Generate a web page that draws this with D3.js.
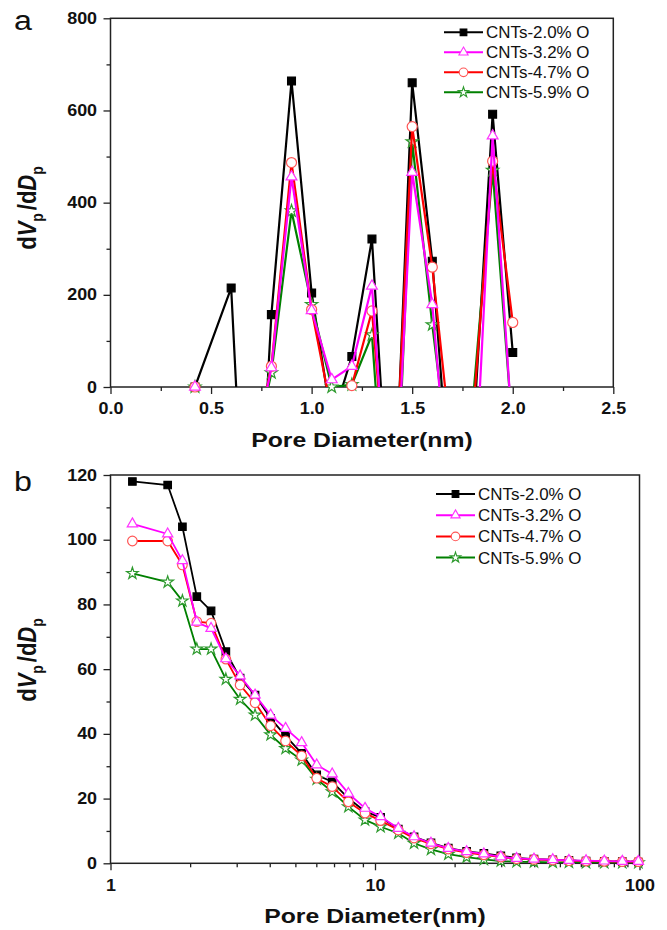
<!DOCTYPE html>
<html>
<head>
<meta charset="utf-8">
<script src="https://cdn.jsdelivr.net/npm/d3@7"></script>
<style>
  body { margin: 0; background: #fff; }
  svg { display: block; font-family: "Liberation Sans", Arial, sans-serif; }
</style>
</head>
<body>
<script>
// ---- data: panel a (pore size distribution, micropores) ----
const topDiam = [0.42, 0.6, 0.7, 0.8, 0.9, 1.0, 1.1, 1.2, 1.3, 1.4, 1.5, 1.6, 1.7, 1.8, 1.9, 2.0];
const topBlack = [0, 215, -650, 157, 664, 204, -75, 66, 321, -400, 660, 273, -300, -130, 592, 75];
const topMagenta = [0, -20, -170, 42, 456, 166, 16, 45, 219, -400, 466, 179, -330, -320, 545, -111];
const topRed = [0, -20, -170, 45, 487, 168, -56, 3, 165, -350, 565, 260, -150, -75, 490, 140];
const topGreen = [0, -20, -170, 31, 382, 179, 0, 5, 113, -500, 532, 135, -220, -40, 470, -100];

// ---- data: panel b (log scale) ----
const botDiam = [1.21, 1.645, 1.87, 2.12, 2.40, 2.73, 3.09, 3.52, 4.03, 4.59, 5.28, 6.02, 6.89, 7.93, 9.17,
  10.5, 12.25, 14.05, 16.28, 18.93, 22.2, 25.8, 29.9, 34.3, 39.9, 47.0, 54.1, 62.8, 73.6, 86.1, 99.0];
const botBlack = [118.0, 116.9, 104, 82.4, 78, 65.4, 57.2, 52, 44.8, 39.4, 34, 27.3, 25.2, 20.1, 16,
  14.2, 10.6, 8.2, 6.3, 4.7, 3.7, 3.1, 2.3, 1.7, 1.3, 1.1, 0.9, 0.7, 0.6, 0.5, 0.4];
const botMagenta = [104.9, 101.8, 93.5, 74.5, 72.6, 63.2, 57.9, 52.0, 45.8, 41.7, 37.3, 30.4, 27.6, 21.6, 17.0,
  14.4, 10.8, 8.2, 6.2, 4.6, 3.6, 2.9, 2.0, 1.5, 1.3, 1.1, 0.9, 0.8, 0.7, 0.6, 0.6];
const botRed = [99.6, 99.6, 92.2, 74.7, 74.2, 63.1, 55.1, 49.6, 42.5, 37.8, 33.2, 26.3, 23.7, 19.0, 15.5,
  13.2, 10.3, 7.8, 6.0, 4.4, 3.3, 2.6, 1.9, 1.4, 1.2, 1.0, 0.8, 0.7, 0.6, 0.5, 0.5];
const botGreen = [89.6, 86.9, 81.1, 66.2, 66.2, 56.9, 50.7, 45.8, 39.7, 35.5, 31.9, 26.0, 22.1, 17.5, 13.4,
  11.3, 9.3, 6.2, 4.3, 2.8, 1.9, 1.2, 0.7, 0.5, 0.4, 0.3, 0.3, 0.2, 0.2, 0.2, 0.2];

const seriesNames = ["CNTs-2.0% O", "CNTs-3.2% O", "CNTs-4.7% O", "CNTs-5.9% O"];
const topTicksY = [0, 200, 400, 600, 800];
const topTicksX = [0.0, 0.5, 1.0, 1.5, 2.0, 2.5];
const botTicksY = [0, 20, 40, 60, 80, 100, 120];
const botTicksX = [1, 10, 100];

// styles per series (legend order)
const styles = [
  { line: "#000000", stroke: "#000000", fill: "#000000", symbol: d3.symbolSquare, size: 56 },
  { line: "#ff00ff", stroke: "#ff33ff", fill: "#ffffff", symbol: d3.symbolTriangle, size: 46 },
  { line: "#ff0000", stroke: "#ff5555", fill: "#ffffff", symbol: d3.symbolCircle, size: 72 },
  { line: "#008000", stroke: "#2e9a2e", fill: "#ffffff", symbol: d3.symbolStar, size: 42 }
];
const drawOrder = [0, 3, 2, 1];

const W = 667, H = 930;
const svg = d3.select("body").append("svg").attr("width", W).attr("height", H);

const stretch = "scale(1.12,1)";

function panel(cfg) {
  const g = svg.append("g");
  const x = cfg.x, y = cfg.y;
  const [x0, x1] = x.range();
  const [y0, y1] = y.range();

  const clipId = "clip-" + cfg.name;
  svg.append("clipPath").attr("id", clipId)
    .append("rect").attr("x", x0).attr("y", y1).attr("width", x1 - x0).attr("height", y0 - y1);

  // minor ticks
  g.append("g").attr("transform", "translate(" + x0 + ",0)")
    .call(d3.axisLeft(y).tickValues(cfg.minorY).tickSize(4).tickSizeOuter(0).tickFormat(""))
    .call(a => a.select(".domain").remove());
  g.append("g").attr("transform", "translate(0," + y0 + ")")
    .call(d3.axisBottom(x).tickValues(cfg.minorX).tickSize(4).tickSizeOuter(0).tickFormat(""))
    .call(a => a.select(".domain").remove());

  // major axes
  const ay = g.append("g").attr("transform", "translate(" + x0 + ",0)")
    .call(d3.axisLeft(y).tickValues(cfg.ticksY).tickSize(7).tickSizeOuter(0).tickPadding(5));
  const ax = g.append("g").attr("transform", "translate(0," + y0 + ")")
    .call(d3.axisBottom(x).tickValues(cfg.ticksX).tickSize(7).tickSizeOuter(0).tickPadding(9)
      .tickFormat(cfg.fmtX));
  [ay, ax].forEach(a => {
    a.select(".domain").remove();
    a.selectAll("text").attr("font-size", 16).attr("font-weight", "bold")
      .attr("fill", "#111").attr("font-family", "Liberation Sans, Arial, sans-serif")
      .attr("transform", stretch);
  });
  g.selectAll(".tick line").attr("stroke", "#222").attr("stroke-width", 1.3);

  // frame
  g.append("rect").attr("x", x0).attr("y", y1).attr("width", x1 - x0).attr("height", y0 - y1)
    .attr("fill", "none").attr("stroke", "#222").attr("stroke-width", 1.5);

  // data
  const plot = g.append("g");
  drawOrder.forEach(i => {
    const vals = cfg.series[i];
    const pts = cfg.diam.map((d, k) => ({ d: d, v: vals[k] }));
    const line = d3.line().x(p => x(p.d)).y(p => y(p.v));
    plot.append("path").datum(pts)
      .attr("d", line)
      .attr("fill", "none")
      .attr("stroke", styles[i].line)
      .attr("stroke-width", cfg.lineWidth)
      .attr("stroke-linejoin", "miter")
      .attr("clip-path", "url(#" + clipId + ")");
    plot.selectAll(null).data(pts.filter(p => p.v >= 0)).enter()
      .append("path")
      .attr("transform", p => "translate(" + x(p.d) + "," + y(p.v) + ")")
      .attr("d", d3.symbol().type(styles[i].symbol).size(styles[i].size * cfg.markScale))
      .attr("fill", styles[i].fill)
      .attr("stroke", styles[i].stroke)
      .attr("stroke-width", 1.2);
  });

  // legend
  const lg = g.append("g");
  seriesNames.forEach((name, i) => {
    const ly = cfg.legY + i * cfg.legStep;
    lg.append("line").attr("x1", cfg.legX).attr("x2", cfg.legX + 39)
      .attr("y1", ly).attr("y2", ly)
      .attr("stroke", styles[i].line).attr("stroke-width", 2);
    lg.append("path")
      .attr("transform", "translate(" + (cfg.legX + 19.5) + "," + ly + ")")
      .attr("d", d3.symbol().type(styles[i].symbol).size(styles[i].size * 0.8))
      .attr("fill", styles[i].fill).attr("stroke", styles[i].stroke).attr("stroke-width", 1.1);
    lg.append("g").attr("transform", "translate(" + (cfg.legX + 42) + "," + (ly + 6) + ") scale(1.06,1)")
      .append("text").attr("font-size", 16).attr("fill", "#111").text(name);
  });

  // x title
  g.append("g").attr("transform", "translate(" + ((x0 + x1) / 2) + "," + (y0 + 60) + ") scale(1.18,1)")
    .append("text").attr("text-anchor", "middle").attr("font-size", 21).attr("font-weight", "bold")
    .attr("fill", "#111").text("Pore Diameter(nm)");

  // y title
  const yt = g.append("g").attr("transform", "translate(36," + cfg.yTitleY + ") scale(1.18,1) rotate(-90)")
    .append("text").attr("text-anchor", "middle").attr("font-size", 22).attr("font-weight", "bold")
    .attr("fill", "#111");
  yt.append("tspan").text("d");
  yt.append("tspan").attr("font-style", "italic").text("V");
  yt.append("tspan").attr("font-size", 14).attr("dy", 6).text("p");
  yt.append("tspan").attr("dy", -6).attr("dx", 3).text("/d");
  yt.append("tspan").attr("font-style", "italic").text("D");
  yt.append("tspan").attr("font-size", 14).attr("dy", 6).text("p");

  // panel letter
  g.append("g").attr("transform", "translate(14," + cfg.letterY + ") scale(1.15,1)")
    .append("text").attr("font-size", 28).attr("fill", "#111").text(cfg.letter);
}

// panel a
panel({
  name: "a",
  x: d3.scaleLinear().domain([0, 2.5]).range([110.5, 613.3]),
  y: d3.scaleLinear().domain([0, 800]).range([387, 18.3]),
  diam: topDiam,
  series: [topBlack, topMagenta, topRed, topGreen],
  ticksX: topTicksX, ticksY: topTicksY,
  minorX: [0.25, 0.75, 1.25, 1.75, 2.25],
  minorY: [100, 300, 500, 700],
  fmtX: d3.format(".1f"),
  lineWidth: 2.2, markScale: 1.1,
  legX: 444, legY: 32.3, legStep: 20,
  yTitleY: 208, letter: "a", letterY: 30
});

// panel b
panel({
  name: "b",
  x: d3.scaleLog().domain([1, 100]).range([110.5, 639.5]),
  y: d3.scaleLinear().domain([0, 120]).range([863.3, 475]),
  diam: botDiam,
  series: [botBlack, botMagenta, botRed, botGreen],
  ticksX: botTicksX, ticksY: botTicksY,
  minorX: [2, 3, 4, 5, 6, 7, 8, 9, 20, 30, 40, 50, 60, 70, 80, 90],
  minorY: [10, 30, 50, 70, 90, 110],
  fmtX: d3.format("d"),
  lineWidth: 1.8, markScale: 1.0,
  legX: 436, legY: 494, legStep: 21.2,
  yTitleY: 660, letter: "b", letterY: 491
});
</script>
</body>
</html>
